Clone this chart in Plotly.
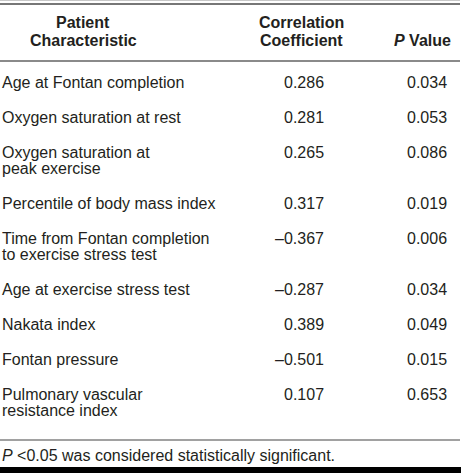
import plotly.graph_objects as go

# ---- data ----
characteristics = [
    ["Age at Fontan completion"],
    ["Oxygen saturation at rest"],
    ["Oxygen saturation at", "peak exercise"],
    ["Percentile of body mass index"],
    ["Time from Fontan completion", "to exercise stress test"],
    ["Age at exercise stress test"],
    ["Nakata index"],
    ["Fontan pressure"],
    ["Pulmonary vascular", "resistance index"],
]
correlation = [0.286, 0.281, 0.265, 0.317, -0.367, -0.287, 0.389, -0.501, 0.107]
p_values = [0.034, 0.053, 0.086, 0.019, 0.006, 0.034, 0.049, 0.015, 0.653]
header_char = ["Patient", "Characteristic"]
header_corr = ["Correlation", "Coefficient"]
header_p = "<i>P</i> Value"
footnote = "<i>P</i> &lt;0.05 was considered statistically significant."

W, H = 461, 473
FONT = "Liberation Sans, Arial, sans-serif"
TXT = "#231f20"
FS = 16

def fmt(v):
    s = f"{abs(v):.3f}"
    return ("\u2013" + s) if v < 0 else s

fig = go.Figure()
ann = []

def add(text, x, y, xanchor="left", bold=False):
    t = f"<b>{text}</b>" if bold else text
    ann.append(dict(text=t, x=x, y=y, xref="x", yref="y", xanchor=xanchor,
                    yanchor="middle", showarrow=False,
                    font=dict(family=FONT, size=FS, color=TXT)))

# header
for i, line in enumerate(header_char):
    add(line, 83, 22 + 18 * i, "center", True)
for i, line in enumerate(header_corr):
    add(line, 301, 22 + 18 * i, "center", True)
add(header_p, 453, 40, "right", True)

# body
y = 82
LINE = 16
ROW = 35
for lines, c, p in zip(characteristics, correlation, p_values):
    for j, line in enumerate(lines):
        add(line, 0, y + LINE * j, "left")
    add(fmt(c), 326, y, "right")
    add(fmt(p), 449, y, "right")
    y += LINE * (len(lines) - 1) + ROW

add(footnote, 0, 455, "left")

shapes = [
    dict(type="line", x0=0, x1=460, y0=0.5, y1=0.5, line=dict(color="#c8c8c8", width=1)),
    dict(type="line", x0=0, x1=460, y0=4, y1=4, line=dict(color="#4a4a4a", width=1.5)),
    dict(type="line", x0=0, x1=460, y0=61, y1=61, line=dict(color="#8a8a8a", width=2.2)),
    dict(type="line", x0=0, x1=460, y0=440, y1=440, line=dict(color="#444444", width=1.2)),
    dict(type="rect", x0=0, x1=461, y0=467, y1=474, fillcolor="#000000", line=dict(width=0)),
]

fig.update_layout(
    width=W, height=H, margin=dict(l=0, r=0, t=0, b=0),
    paper_bgcolor="white", plot_bgcolor="white",
    xaxis=dict(range=[0, W], visible=False, fixedrange=True),
    yaxis=dict(range=[H, 0], visible=False, fixedrange=True),
    annotations=ann, shapes=shapes, showlegend=False,
)
fig.write_html(
    "out.html",
    config={"displayModeBar": False},
    post_script="document.body.style.margin='0';document.body.style.padding='0';"
                "document.body.style.overflow='hidden';",
)
